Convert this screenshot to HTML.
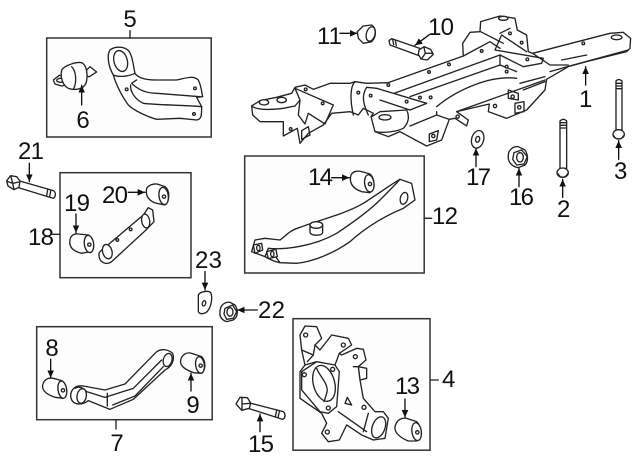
<!DOCTYPE html>
<html><head><meta charset="utf-8"><style>
html,body{margin:0;padding:0;background:#fff}
svg{display:block;filter:blur(.3px)}
text{font-family:"Liberation Sans",Arial,sans-serif;font-size:24px;fill:#111}
.z{fill:#fff;stroke:#222;stroke-width:4;stroke-linejoin:round;stroke-linecap:round}
.z .n{fill:none}
.a{stroke:#111;stroke-width:4;fill:none;marker-end:url(#ah)}
.l{stroke:#222;stroke-width:4;fill:none}
.b{fill:#fdfdfd;stroke:#333;stroke-width:1.5}
</style></head><body>
<svg width="640" height="471" viewBox="0 0 640 471" xmlns="http://www.w3.org/2000/svg">
<defs><marker id="ah" markerUnits="strokeWidth" markerWidth="5.5" markerHeight="5" refX="5.5" refY="2.5" orient="auto"><path d="M0,0L5.5,2.5L0,5z" fill="#111"/></marker></defs>

<rect class="b" x="46.7" y="38" width="164.5" height="99"/>
<rect class="b" x="60" y="172.7" width="131" height="105"/>
<rect class="b" x="244.7" y="156" width="179.5" height="117"/>
<rect class="b" x="36.7" y="326.7" width="175.5" height="93"/>
<rect class="b" x="293" y="318.7" width="137" height="131.5"/>

<!-- frame + top right -->
<g class="z" transform="translate(240,0) scale(.3333)">
<path d="M35,318L60,302L110,292L155,280L165,262L195,255L220,268L270,250L330,250L345,245L380,250L445,248L670,168L668,130L690,97L720,95L722,65L780,48L825,55L832,90L860,105L865,155L878,160L1110,100L1150,97L1172,115L1170,145L1160,155L1040,185L985,200L920,238L915,270L860,330L800,355L745,335L748,312L650,335L685,360L680,378L645,355L628,358L605,420L560,438L480,395L445,410L405,395L393,350L400,340L370,325L355,345L330,335L275,340L250,375L205,400L180,430L172,385L130,408L130,365L60,365L38,345Z"/>
<g class="n">
<path class="n" d="M35,318C50,330 90,330 130,325L165,318M165,265L180,300L165,318M165,265L280,315L255,372L205,340L195,372L175,345L180,300"/>
<path class="n" d="M345,245C330,260 330,300 340,345M380,262C365,285 368,310 385,345M380,262L410,265L560,310L510,330L420,300M395,350L420,335L500,330C510,350 505,370 490,385M405,395C430,400 470,395 490,385"/>
<path class="n" d="M462,280L780,165M510,290L780,195L830,215M590,320C650,270 750,225 830,235M650,335L915,240M840,250L915,230M850,270L915,245M510,378L590,345L628,358M590,335L590,345"/>
<path class="n" d="M965,180L1040,165M930,215L1000,195L1165,150M878,160L930,195L985,195M670,168L750,125L780,145M722,95L790,130M780,100L810,85M765,150L785,105L860,155M765,150L910,175L905,190L850,200L780,165L780,195"/>
<path class="n" d="M805,270L835,280L835,300L805,295ZM825,310L852,305L852,335L825,340ZM185,392L205,380L210,405L185,418ZM568,402L595,392L590,420L568,425Z"/>
</g>
<ellipse cx="72" cy="307" rx="14" ry="8"/><ellipse cx="125" cy="300" rx="14" ry="8"/><ellipse cx="435" cy="352" rx="18" ry="8"/><ellipse cx="790" cy="55" rx="14" ry="6"/><ellipse cx="1130" cy="112" rx="16" ry="7"/>
<g><circle cx="197" cy="268" r="4"/><circle cx="248" cy="310" r="4"/><circle cx="152" cy="387" r="4"/><circle cx="355" cy="278" r="4"/><circle cx="392" cy="287" r="4"/><circle cx="445" cy="255" r="4"/><circle cx="567" cy="216" r="4"/><circle cx="627" cy="193" r="4"/><circle cx="725" cy="153" r="4"/><circle cx="862" cy="178" r="4"/><circle cx="800" cy="200" r="4"/><circle cx="800" cy="215" r="4"/><circle cx="540" cy="293" r="4"/><circle cx="572" cy="292" r="4"/><circle cx="500" cy="305" r="4"/><circle cx="845" cy="128" r="4"/><circle cx="810" cy="100" r="4"/><circle cx="1030" cy="130" r="4"/><circle cx="653" cy="350" r="5"/><circle cx="765" cy="318" r="5"/><circle cx="818" cy="290" r="5"/><circle cx="838" cy="322" r="5"/><circle cx="580" cy="408" r="5"/></g>
<!-- nut 11 -->
<path d="M352,95L370,78L395,75C410,85 410,110 395,125L370,130L355,115Z"/><ellipse cx="392" cy="102" rx="13" ry="22" transform="rotate(15 392 102)"/>
<!-- bolt 10 -->
<path d="M447,122L455,116L545,147L540,168L450,135Z"/><path class="n" d="M458,118L461,134M466,121L469,137"/>
<path d="M537,150L552,140L572,148L580,163L562,180L543,177L535,163Z"/><path class="n" d="M552,142L556,160L578,160M556,160L545,176"/>
<path class="a" d="M300,100H352"/><path class="a" d="M568,104L525,136"/>
<path class="a" d="M1037,255V200"/>
</g>

<!-- box 5 -->
<g class="z" transform="scale(.3333)">
<path d="M160,240L178,226L205,228L210,252L185,258L165,252Z"/><ellipse cx="182" cy="241" rx="12" ry="6"/>
<path d="M258,212L270,200L290,216L268,230L256,228Z"/>
<path d="M185,210C195,195 230,185 245,188C260,195 265,225 258,250C250,268 225,272 205,265C190,258 180,235 185,210Z"/>
<path class="n" d="M215,200C230,215 230,250 220,268"/>
<path d="M330,150C345,138 375,138 388,155C400,175 400,200 405,220C415,235 440,240 470,240L530,240C555,235 580,225 595,240C605,260 605,280 608,290L590,292L605,320C605,345 605,358 590,360L540,355L470,358C440,350 400,330 385,315C370,295 350,260 340,225C325,200 320,165 330,150Z"/>
<ellipse cx="362" cy="183" rx="20" ry="32" transform="rotate(-15 362 183)"/>
<path class="n" d="M395,250C410,265 435,280 470,280L600,290M392,255C390,270 400,295 430,310C470,315 540,315 605,320M340,225C355,232 385,230 405,220M395,250L410,240"/>
<circle cx="585" cy="265" r="4"/><circle cx="582" cy="342" r="4"/><circle cx="380" cy="268" r="4"/>
<path class="a" d="M245,315V256"/>
<path class="l" d="M390,92V114"/>
</g>

<!-- box 18 -->
<g class="z" transform="translate(0,140) scale(.3333)">
<path d="M55,122L160,152C168,156 168,170 160,175L55,143Z"/>
<path d="M20,122L32,107L50,110L60,123L57,142L42,149L24,138Z"/><path class="n" d="M33,110L38,130L22,124M38,130L57,126M38,130L42,148"/>
<path class="n" d="M143,150L140,167M152,153L149,170"/>
<path class="a" d="M88,70V125"/>
<path d="M440,145C450,130 470,130 480,135L495,140C510,150 510,180 495,195L470,190C450,185 435,170 440,145Z"/>
<ellipse cx="491" cy="168" rx="14" ry="26" transform="rotate(-8 491 168)"/><circle cx="492" cy="170" r="5"/>
<path class="a" d="M385,157H435"/>
<path d="M300,335L430,225L445,203L458,210L462,245L440,268L335,365C315,378 295,365 297,340Z"/>
<ellipse cx="322" cy="335" rx="14" ry="22" transform="rotate(-15 322 335)"/><ellipse cx="437" cy="243" rx="12" ry="21" transform="rotate(-10 437 243)"/>
<circle cx="352" cy="300" r="4"/><circle cx="392" cy="268" r="4"/>
<path d="M210,300C212,285 225,280 235,282L265,285C280,295 285,320 270,335L245,340C225,335 205,325 210,300Z"/>
<ellipse cx="267" cy="312" rx="14" ry="26" transform="rotate(-8 267 312)"/><circle cx="268" cy="314" r="5"/>
<path class="a" d="M228,222V278"/>
<path class="l" d="M158,283H179"/>
</g>

<!-- plate 23 and nut 22 -->
<g class="z" transform="translate(180,240) scale(.3333)">
<path d="M55,165C60,155 85,150 92,158C98,170 95,195 85,210C78,222 60,225 55,215Z"/>
<ellipse cx="72" cy="190" rx="5" ry="8" transform="rotate(15 72 190)"/>
<path class="a" d="M75,95V150"/>
<path d="M120,215C120,195 135,185 150,187L165,195C175,210 175,230 160,240L140,245C125,240 118,230 120,215Z"/>
<path d="M135,205L158,195L170,215L160,235L140,238L132,222Z"/><ellipse cx="150" cy="216" rx="9" ry="13"/>
<path class="a" d="M232,210H172"/>
</g>

<!-- box 12 -->
<g class="z" transform="translate(240,150) scale(.3333)">
<path d="M45,270L75,265L120,270C135,260 150,240 180,232C240,210 320,190 370,160C410,135 450,105 480,88L515,100L525,150L490,175C440,195 380,230 330,275C280,310 220,335 170,340L120,338C100,335 85,325 75,320L35,305Z"/>
<path class="n" d="M85,295C130,300 220,290 290,250C350,210 390,180 420,150C440,130 470,100 480,88M75,320L85,295M120,338L105,318"/>
<ellipse cx="492" cy="145" rx="11" ry="18" transform="rotate(15 492 145)"/>
<path d="M210,225V248C215,258 245,258 248,248V225Z"/><ellipse cx="229" cy="225" rx="19" ry="10"/>
<path d="M40,285L65,280L68,300L45,310Z"/><ellipse cx="55" cy="294" rx="5" ry="8"/>
<path d="M80,305L108,298L112,320L85,326Z"/><ellipse cx="97" cy="312" rx="5" ry="8"/>
<path d="M333,75C340,62 355,62 365,65L390,72C405,85 405,115 390,128L365,125C345,118 325,105 333,75Z"/>
<ellipse cx="388" cy="100" rx="14" ry="26" transform="rotate(-8 388 100)"/><circle cx="390" cy="102" r="5"/>
<path class="a" d="M275,83H328"/>
<path class="l" d="M552,205H575"/>
</g>

<!-- box 7 -->
<g class="z" transform="translate(20,310) scale(.3333)">
<path d="M68,225C72,208 85,202 100,205L125,212C142,225 145,250 130,265L105,262C85,255 65,245 68,225Z"/>
<ellipse cx="127" cy="239" rx="13" ry="26" transform="rotate(-8 127 239)"/><circle cx="129" cy="241" r="5"/>
<path class="a" d="M92,148V203"/>
<path d="M152,258C152,235 170,225 190,228L255,240L315,222L410,125C425,115 445,118 458,130C465,150 455,170 435,180L340,268L270,298L205,272C190,285 155,290 152,258Z"/>
<ellipse cx="185" cy="258" rx="14" ry="22" transform="rotate(10 185 258)"/><ellipse cx="443" cy="150" rx="13" ry="20" transform="rotate(15 443 150)"/>
<path class="n" d="M200,245L255,262L340,235L425,150M262,250V288M278,285L345,258L430,170M165,235C175,228 190,232 200,245"/>
<path d="M482,150C485,135 500,125 515,130L545,140C558,155 558,175 545,190L520,188C500,180 478,170 482,150Z"/>
<ellipse cx="540" cy="165" rx="13" ry="25" transform="rotate(-8 540 165)"/><circle cx="542" cy="167" r="5"/>
<path class="a" d="M513,243V190"/>
<path class="l" d="M288,330V357"/>
</g>

<!-- box 4 -->
<g class="z" transform="translate(220,310) scale(.3333)">
<path d="M415,170L440,175L440,205L420,210Z"/>
<path d="M240,75L255,48L290,50L305,85L285,105L300,120L335,75L385,85L395,105L358,130L365,135L410,115L430,118L438,150L415,170L420,210L430,265L465,305L490,305L505,325L495,385L460,390L425,375L380,345L358,390L325,395L305,370L320,340L305,310L240,265L240,185L255,165L245,120Z"/>
<path class="n" d="M245,185L290,155L345,165L358,185L350,290L325,310L300,305L245,240ZM255,165L290,155M245,120L280,135L262,155M285,105L280,135M358,130L345,165M400,170L415,170M355,305L440,365M445,310L430,365"/>
<ellipse cx="312" cy="220" rx="32" ry="55" transform="rotate(-15 312 220)"/>
<path class="n" d="M290,175C300,200 320,215 322,240C320,255 315,265 312,275"/>
<ellipse cx="476" cy="352" rx="19" ry="33" transform="rotate(20 476 352)"/>
<circle cx="257" cy="75" r="6"/><circle cx="370" cy="105" r="6"/><circle cx="406" cy="140" r="6"/><circle cx="253" cy="194" r="6"/><circle cx="338" cy="178" r="6"/><circle cx="325" cy="294" r="6"/><circle cx="432" cy="292" r="6"/><circle cx="322" cy="366" r="6"/>
<path d="M375,280L382,262L395,285Z"/>
<path d="M525,350C530,330 545,322 560,325L590,335C605,350 605,380 590,393L565,393C545,385 522,370 525,350Z"/>
<ellipse cx="590" cy="365" rx="14" ry="27" transform="rotate(-8 590 365)"/><circle cx="592" cy="367" r="5"/>
<path class="a" d="M555,267V322"/>
<path d="M85,278L190,305C198,312 196,325 188,328L85,295Z"/>
<path d="M48,282L60,262L82,263L92,279L88,295L65,301Z"/>
<path class="n" d="M170,302L166,320M178,305L174,323M66,265L66,298M66,282L90,280"/>
<path class="a" d="M120,365V312"/>
<path class="l" d="M632,210H655"/>
</g>

<!-- right hardware -->
<g class="z" transform="translate(450,100) scale(.3333)">
<ellipse cx="83" cy="118" rx="18" ry="27" transform="rotate(15 83 118)"/><ellipse cx="83" cy="118" rx="6" ry="9" transform="rotate(15 83 118)"/>
<path class="a" d="M78,200V145"/>
<path d="M175,165C175,150 190,138 205,140L225,150C235,165 235,185 225,195L205,203C185,200 172,185 175,165Z"/>
<path d="M192,158L215,150L232,170L222,192L200,195L188,178Z"/><ellipse cx="210" cy="172" rx="10" ry="14"/>
<path class="a" d="M207,260V205"/>
<path d="M330,205V63Q340,53 350,63V205Z"/><path class="n" d="M331,68H349M331,76H349M331,84H349"/>
<ellipse cx="338" cy="218" rx="17" ry="14"/><path class="n" d="M325,222C330,235 346,235 352,222"/>
<path class="a" d="M338,292V238"/>
<path d="M498,90V-57Q506,-66 516,-57V90Z"/><path class="n" d="M499,-50H515M499,-42H515M499,-34H515"/>
<ellipse cx="506" cy="103" rx="17" ry="14"/><path class="n" d="M492,108C497,120 514,120 520,108"/>
<path class="a" d="M506,178V122"/>
</g>

<text x="130" y="27" text-anchor="middle">5</text>
<text x="83" y="128" text-anchor="middle">6</text>
<text x="18" y="159" textLength="26">21</text>
<text x="64" y="211" textLength="26">19</text>
<text x="102" y="203" textLength="26">20</text>
<text x="28" y="245" textLength="26">18</text>
<text x="195" y="268" textLength="27">23</text>
<text x="308" y="185" textLength="25">14</text>
<text x="432" y="224" textLength="26">12</text>
<text x="317" y="44" textLength="25">11</text>
<text x="428" y="35" textLength="26">10</text>
<text x="579" y="107">1</text>
<text x="466" y="185" textLength="25">17</text>
<text x="509" y="205" textLength="25">16</text>
<text x="557" y="217">2</text>
<text x="614" y="179">3</text>
<text x="52" y="356" text-anchor="middle">8</text>
<text x="193" y="413" text-anchor="middle">9</text>
<text x="117" y="451" text-anchor="middle">7</text>
<text x="248" y="452" textLength="26">15</text>
<text x="395" y="394" textLength="25">13</text>
<text x="442" y="387">4</text>
<text x="258" y="318" textLength="27">22</text>
</svg>
</body></html>
